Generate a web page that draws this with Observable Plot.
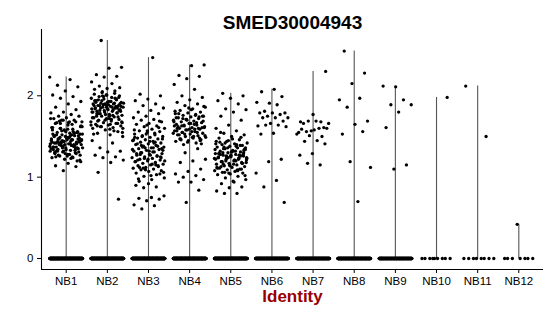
<!DOCTYPE html>
<html>
<head>
<meta charset="utf-8">
<script src="https://cdn.jsdelivr.net/npm/d3@7"></script>
<script src="https://cdn.jsdelivr.net/npm/@observablehq/plot@0.6"></script>
<style>
  body { margin: 0; background: white; }
</style>
</head>
<body>
<div id="chart"></div>
<script>
const title = "SMED30004943";
const xLabel = "Identity";
const categories = ["NB1","NB2","NB3","NB4","NB5","NB6","NB7","NB8","NB9","NB10","NB11","NB12"];
const yTicks = [0, 1, 2];

// non-zero expression values, per identity
const nb1 = [2.23,2.20,2.13,2.11,2.06,2.01,1.99,1.97,1.93,1.90,1.86,1.83,1.80,1.79,1.77,1.75,1.75,1.73,1.72,1.70,1.70,1.68,1.68,1.67,
1.20,1.22,1.24,1.25,1.26,1.27,1.28,1.29,1.30,1.31,1.32,1.33,1.34,1.35,1.36,1.37,1.38,1.39,1.40,1.41,
1.42,1.43,1.44,1.45,1.46,1.47,1.48,1.49,1.50,1.51,1.52,1.53,1.54,1.55,1.56,1.57,1.58,1.59,1.60,1.62,
1.64,1.66,1.68,1.70,1.72,1.23,1.27,1.31,1.34,1.37,1.40,1.43,1.46,1.49,1.52,1.55,1.58,1.61,1.65,1.69,
1.21,1.26,1.30,1.33,1.36,1.38,1.41,1.44,1.47,1.50,1.53,1.56,1.60,1.63,1.67,1.25,1.29,1.32,1.35,1.39,
1.42,1.45,1.48,1.51,1.54,1.57,1.62,1.28,1.33,1.36,1.40,1.43,1.46,1.49,1.53,1.59,1.31,1.35,1.38,1.41,
1.44,1.47,1.51,1.56,1.34,1.39,1.42,1.45,1.48,1.37,1.41,1.44,1.47,1.52,1.40,1.43,1.46,1.42,1.38,1.45,
1.36,1.50,1.32,1.55,1.29,1.61,1.24,1.66,
1.19,1.17,1.14,1.13,1.08];
const nb2 = [2.68,2.35,2.34,2.26,2.24,2.23,2.17,2.15,2.12,2.10,2.09,2.08,2.06,2.05,
1.50,1.52,1.54,1.56,1.58,1.60,1.61,1.62,1.63,1.64,1.65,1.66,1.67,1.68,1.69,1.70,1.71,1.72,1.73,1.74,
1.75,1.76,1.77,1.78,1.79,1.80,1.80,1.81,1.82,1.83,1.84,1.84,1.85,1.86,1.86,1.87,1.88,1.88,1.89,1.90,
1.90,1.91,1.92,1.93,1.94,1.95,1.96,1.97,1.98,1.99,2.00,2.01,2.02,2.03,2.04,1.55,1.59,1.63,1.66,1.70,
1.73,1.76,1.78,1.81,1.83,1.85,1.87,1.89,1.91,1.93,1.95,1.98,2.01,1.53,1.57,1.62,1.68,1.72,1.75,1.79,
1.82,1.84,1.86,1.88,1.90,1.92,1.94,1.97,2.00,1.60,1.65,1.69,1.74,1.77,1.80,1.83,1.85,1.87,1.89,1.92,
1.96,1.99,1.64,1.71,1.78,1.82,1.86,1.88,1.91,1.94,1.67,1.75,1.81,1.85,1.90,
1.45,1.42,1.36,1.32,1.31,1.27,1.25,1.24,1.21,1.18,1.06,0.73];
const nb3 = [2.47,2.02,2.00,1.96,1.94,1.90,1.88,1.85,1.82,1.80,1.78,
1.75,1.73,1.71,1.70,1.68,1.66,1.65,1.63,1.62,1.60,1.59,1.57,1.56,1.55,1.53,1.52,1.51,1.50,1.49,1.48,
1.47,1.46,1.45,1.44,1.43,1.42,1.41,1.40,1.39,1.38,1.37,1.36,1.35,1.34,1.33,1.32,1.31,1.30,1.29,1.28,
1.27,1.26,1.25,1.24,1.23,1.22,1.21,1.20,1.19,1.18,1.17,1.16,1.15,1.14,1.13,1.12,1.11,1.10,1.09,1.08,
1.07,1.05,1.03,1.01,0.99,0.97,0.95,1.69,1.64,1.58,1.54,1.50,1.47,1.44,1.41,1.38,1.36,1.34,1.31,1.28,
1.25,1.22,1.19,1.15,1.11,1.06,1.02,0.98,1.61,1.53,1.46,1.42,1.39,1.35,1.32,1.29,1.26,1.23,1.20,1.16,
1.12,1.04,1.57,1.49,1.43,1.37,1.33,1.27,1.21,1.14,1.09,1.45,1.36,1.30,1.24,
0.92,0.90,0.88,0.87,0.77,0.75,0.74,0.73,0.71,0.66,0.65,0.61];
const nb4 = [2.38,2.37,2.25,2.24,2.21,2.14,2.08,2.00,1.98,1.95,1.92,
1.90,1.88,1.86,1.84,1.82,1.80,1.79,1.78,1.77,1.76,1.75,1.74,1.73,1.72,1.71,1.70,1.69,1.68,1.67,1.66,
1.65,1.64,1.63,1.62,1.61,1.60,1.59,1.58,1.57,1.56,1.55,1.54,1.53,1.52,1.51,1.50,1.49,1.48,1.47,1.46,
1.45,1.44,1.42,1.40,1.87,1.83,1.78,1.74,1.71,1.68,1.65,1.63,1.61,1.59,1.57,1.55,1.53,1.51,1.49,1.47,
1.45,1.43,1.81,1.76,1.72,1.69,1.66,1.62,1.60,1.58,1.54,1.50,1.46,1.41,1.85,1.73,1.67,1.64,1.61,1.56,
1.52,1.48,1.70,1.63,1.59,1.55,1.75,1.66,1.60,
1.35,1.30,1.22,1.20,1.18,1.10,1.07,1.04,1.02,1.00,0.97,0.94,0.94,0.84,0.69];
const nb5 = [2.03,2.00,1.97,1.94,1.90,1.84,1.83,1.80,1.75,1.70,1.64,
1.60,1.57,1.54,1.52,1.50,1.48,1.46,1.44,1.42,1.41,1.40,1.39,1.38,1.37,1.36,1.35,1.34,1.33,1.32,1.31,
1.30,1.29,1.28,1.27,1.26,1.25,1.24,1.23,1.22,1.21,1.20,1.19,1.18,1.17,1.16,1.15,1.14,1.13,1.12,1.11,
1.10,1.09,1.08,1.07,1.06,1.05,1.04,1.03,1.01,0.99,0.97,0.95,1.55,1.49,1.45,1.41,1.38,1.35,1.33,1.31,
1.29,1.27,1.25,1.23,1.21,1.19,1.17,1.15,1.12,1.09,1.06,1.02,1.47,1.43,1.39,1.36,1.34,1.32,1.30,1.28,
1.26,1.24,1.22,1.20,1.18,1.16,1.13,1.10,1.05,1.44,1.40,1.37,1.34,1.31,1.29,1.27,1.25,1.23,1.21,1.19,
1.17,1.14,1.11,1.08,1.42,1.36,1.32,1.28,1.26,1.24,1.22,1.20,1.16,1.30,1.27,1.25,1.23,1.26,1.24,
0.94,0.92,0.88,0.87,0.83,0.80,0.80];
const nb6 = [2.08,2.05,1.99,1.91,1.92,1.89,1.81,1.79,1.79,1.79,1.77,1.75,1.73,1.73,1.73,1.69,1.66,1.63,1.64,1.64,1.62,1.54,1.53,1.22,1.19,1.05,0.96,0.88,0.69];
const nb7 = [2.30,1.77,1.68,1.68,1.69,1.66,1.69,1.66,1.61,1.57,1.55,1.60,1.56,1.60,1.58,1.59,1.50,1.51,1.53,1.45,1.44,1.41,1.29,1.27,1.15,1.17];
const nb8 = [2.55,2.28,2.15,1.95,1.97,1.86,1.69,1.65,1.53,1.56,1.19,1.12,0.70];
const nb9 = [2.11,2.12,1.95,1.89,1.89,1.80,1.61,1.15,1.10];
const nb10 = [1.98];
const nb11 = [2.12,1.50];
const nb12 = [0.42];
// number of cells with zero expression, per identity
const zeroCounts = [260,260,260,260,260,220,220,220,180,9,8,7];

const series = [nb1,nb2,nb3,nb4,nb5,nb6,nb7,nb8,nb9,nb10,nb11,nb12];
const xDomain = [0.4, categories.length + 0.6];
const yDomain = [-0.135, 2.815];

// deterministic jitter in [-0.4, 0.4] (horizontal spread only)
const jitter = (i, g) => (((i * 0.6180339887 + g * 0.3137) % 1) - 0.5) * 0.8;

const cells = [];
series.forEach((vals, g) => {
  const all = vals.concat(new Array(zeroCounts[g]).fill(0));
  all.forEach((v, i) => cells.push({g: g + 1, v, j: jitter(i, g)}));
});
const violins = series.map((vals, g) => ({g: g + 1, max: d3.max(vals)}));

const font = "'Liberation Sans', Arial, Helvetica, sans-serif";

const chart = Plot.plot({
  width: 550,
  height: 316,
  marginLeft: 41,
  marginRight: 7,
  marginTop: 29,
  marginBottom: 47,
  style: {fontFamily: font, fontSize: "11.5px", color: "black", background: "white", overflow: "visible"},
  x: {type: "linear", domain: xDomain, ticks: d3.range(1, categories.length + 1),
      tickFormat: i => categories[i - 1], tickSize: 4, tickPadding: 3, label: null},
  y: {domain: yDomain, ticks: yTicks, tickFormat: d3.format("d"), tickSize: 4, tickPadding: 4, label: null},
  marks: [
    Plot.ruleX(violins, {x: "g", y1: 0, y2: "max", stroke: "#555", strokeWidth: 1.1}),
    Plot.dot(cells, {x: d => d.g + d.j, y: "v", r: 1.65, fill: "black", stroke: "none"}),
    Plot.ruleY([yDomain[0]], {stroke: "black", strokeWidth: 1.1}),
    Plot.ruleX([xDomain[0]], {stroke: "black", strokeWidth: 1.1}),
    Plot.text([title], {frameAnchor: "top", dy: -14, text: d => d, fontSize: 19, fontWeight: "bold", fill: "black"}),
    Plot.text([xLabel], {frameAnchor: "bottom", dy: 32, text: d => d, fontSize: 17, fontWeight: "bold", fill: "#990000"})
  ]
});
document.getElementById("chart").appendChild(chart);
</script>
</body>
</html>
